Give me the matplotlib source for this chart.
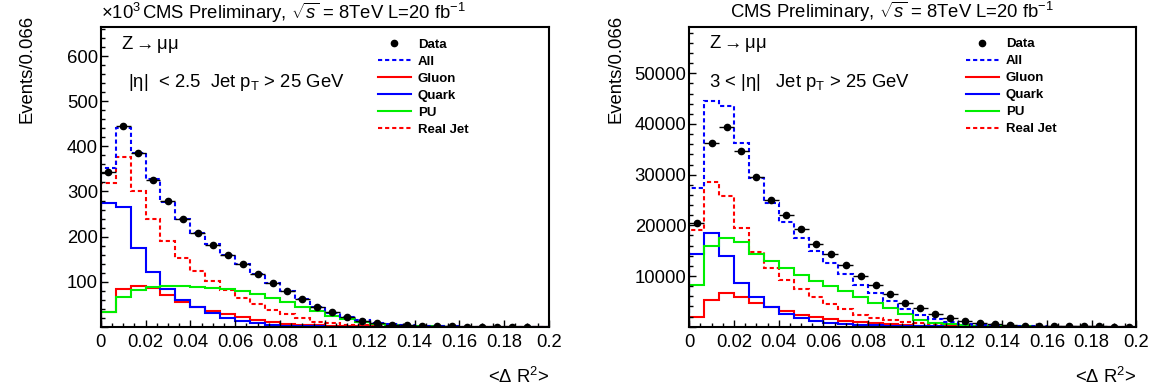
import matplotlib
matplotlib.use('Agg')
import matplotlib.pyplot as plt
import numpy as np
from matplotlib.lines import Line2D
from matplotlib.ticker import MultipleLocator, FuncFormatter

params = {
    'font.family': ['Liberation Sans', 'DejaVu Sans'],
    'font.size': 13.3,
    'mathtext.fontset': 'custom',
    'mathtext.rm': 'Liberation Sans',
    'mathtext.it': 'Liberation Sans:italic',
    'mathtext.bf': 'Liberation Sans:bold',
    'axes.linewidth': 1.5,
}
plt.rcParams.update(params)

# 30 bins of <dR^2> between 0 and 0.2
edges = np.linspace(0, 0.2, 31)

# left panel, |eta| < 2.5, in units of 10^3 events
data_l = [344, 445, 386, 326, 279, 239, 209, 182, 159, 138.5, 118, 98, 79.5, 62, 44.6,
          32, 21, 13.6, 7.7, 5, 3, 2, 1.2, 0.8, 0.5, 0.3, 0.2, 0.1, 0.1, 0]
all_l = [351, 440, 386, 327, 277, 239, 209, 183, 159, 138.5, 117, 96, 79.5, 61, 43,
         31, 22, 15, 9, 5.5, 3.2, 2, 1.2, 0.7, 0.4, 0.25, 0.15, 0.1, 0.05, 0.02]
gluon_l = [32, 83, 91, 85, 70, 56, 43, 35.8, 28.4, 21, 15, 10.6, 7, 4.7, 3.3,
           2, 1.3, 0.8, 0.5, 0.3, 0.2, 0.1, 0.05, 0.03, 0.02, 0.01, 0, 0, 0, 0]
quark_l = [273.6, 265, 175.5, 121, 83, 59.4, 43, 30, 20, 13.6, 7.7, 4.7, 2.5, 1.8, 1,
           0.6, 0.4, 0.25, 0.15, 0.1, 0.05, 0.03, 0.02, 0.01, 0, 0, 0, 0, 0, 0]
pu_l = [33, 65, 81.6, 89, 90.5, 90, 89, 87, 84.6, 79.5, 72.7, 64, 55, 44.6, 34,
        24.7, 16.6, 10, 6, 4, 2.5, 1.5, 0.9, 0.5, 0.3, 0.2, 0.1, 0.05, 0.03, 0.02]
realjet_l = [318, 376, 300, 239, 190, 152.5, 124.5, 102, 81.6, 64.6, 50.6, 37, 27.6, 18.8, 11,
             8, 5, 3, 2, 1.3, 0.8, 0.5, 0.3, 0.2, 0.1, 0.07, 0.05, 0.03, 0.02, 0.01]

# right panel, 3 < |eta|
data_r = [20400, 36200, 39500, 34700, 29500, 25000, 22000, 19300, 16400, 14300, 12200, 10100,
          8200, 6400, 4700, 3700, 2500, 1700, 1060, 660, 470, 340, 200, 130, 100, 70, 50, 40, 30, 20]
all_r = [27300, 44600, 43500, 36300, 29400, 24500, 20700, 17600, 15000, 12500, 10400, 8200,
         6600, 5100, 3500, 2300, 1450, 860, 530, 330, 200, 120, 80, 50, 30, 20, 15, 10, 5, 3]
gluon_r = [2000, 5300, 6600, 5800, 4700, 3800, 3100, 2400, 2000, 1500, 1100, 850,
           650, 450, 300, 200, 150, 100, 60, 40, 25, 15, 10, 5, 3, 2, 1, 0, 0, 0]
quark_r = [14300, 18500, 14000, 8700, 5800, 3900, 2600, 1800, 1200, 800, 600, 400,
           250, 150, 100, 60, 40, 25, 15, 10, 5, 3, 2, 1, 0, 0, 0, 0, 0, 0]
pu_r = [8200, 16000, 17600, 16800, 14300, 13000, 11600, 10200, 9000, 8000, 7000, 5900,
        4700, 3600, 2500, 1300, 800, 470, 300, 200, 100, 60, 40, 25, 15, 10, 5, 3, 2, 1]
realjet_r = [19100, 28500, 25800, 19500, 14800, 11500, 9200, 7400, 5900, 4400, 3400, 2400,
             1800, 1300, 1000, 700, 450, 300, 200, 120, 80, 50, 30, 20, 15, 10, 5, 3, 2, 1]

W, H = 1160., 391.
fig = plt.figure(figsize=[W / 100, H / 100], dpi=100)
axl = fig.add_axes([100.7 / W, (H - 326.8) / H, 448.3 / W, 299.5 / H])
axr = fig.add_axes([689.3 / W, (H - 326.7) / H, 447.0 / W, 300.0 / H])

dash = (0, (2.0, 1.4))
green = '#00ee00'
styles = [('realjet', 'red', dash), ('gluon', 'red', '-'), ('quark', 'blue', '-'),
          ('pu', green, '-'), ('all', 'blue', dash)]


def draw(ax, series, data, ymax, major, minor, cut):
    for name, col, ls in styles:
        ax.stairs(series[name], edges, color=col, linestyle=ls, lw=1.5)
    centers = 0.5 * (edges[1:] + edges[:-1])
    d = np.array(data, dtype=float)
    m = d > 0
    ax.errorbar(centers[m], d[m], xerr=0.5 * (edges[1] - edges[0]), fmt='o', color='black',
                ms=4.5, elinewidth=1.0, capsize=0, zorder=5)
    ax.set_xlim(0, 0.2)
    ax.set_ylim(0, ymax)
    ax.xaxis.set_major_locator(MultipleLocator(0.02))
    ax.xaxis.set_minor_locator(MultipleLocator(0.005))
    ax.yaxis.set_major_locator(MultipleLocator(major))
    ax.yaxis.set_minor_locator(MultipleLocator(minor))
    ax.xaxis.set_major_formatter(FuncFormatter(lambda v, p: '0' if abs(v) < 1e-9 else ('%g' % round(v, 3))))
    ax.yaxis.set_major_formatter(FuncFormatter(lambda v, p: '' if v < cut else '%d' % v))
    ax.tick_params(which='both', direction='in', top=False, right=False)
    ax.tick_params(which='major', length=5, width=1)
    ax.tick_params(which='minor', length=3, width=1)
    ax.tick_params(axis='y', pad=2)
    ax.tick_params(axis='x', pad=5)
    ax.text(1.0, -0.166, r'<$\Delta$ R$^{2}$>', transform=ax.transAxes, ha='right', va='center')
    ax.text(-0.165, 1.04, 'Events/0.066', transform=ax.transAxes, rotation=90, ha='center', va='top')
    ax.text(0.092, 1.048, r'CMS Preliminary, $\sqrt{s}$ = 8TeV L=20 fb$^{-1}$', transform=ax.transAxes,
            ha='left', va='center')
    ax.text(0.045, 0.943, r'Z$\rightarrow\mathrm{\mu\mu}$', transform=ax.transAxes, ha='left', va='center')

    handles = [Line2D([], [], color='black', marker='o', ms=4.5, ls='none'),
               Line2D([], [], color='blue', ls=dash, lw=1.5),
               Line2D([], [], color='red', lw=1.5),
               Line2D([], [], color='blue', lw=1.5),
               Line2D([], [], color=green, lw=1.5),
               Line2D([], [], color='red', ls=dash, lw=1.5)]
    labels = ['Data', 'All', 'Gluon', 'Quark', 'PU', 'Real Jet']
    ax.legend(handles, labels, loc='upper left', bbox_to_anchor=(0.618, 0.962), frameon=False,
              prop={'weight': 'bold', 'size': 9.5}, handlelength=2.5, handletextpad=0.55,
              labelspacing=0.36, borderpad=0, borderaxespad=0)


draw(axl, dict(all=all_l, gluon=gluon_l, quark=quark_l, pu=pu_l, realjet=realjet_l),
     data_l, 664, 100, 20, 50)
draw(axr, dict(all=all_r, gluon=gluon_r, quark=quark_r, pu=pu_r, realjet=realjet_r),
     data_r, 59200, 10000, 2000, 5000)

axl.text(0.0, 1.048, r'$\times$10$^{3}$', transform=axl.transAxes, ha='left', va='center')
axl.text(0.06, 0.815, '|\u03b7|  < 2.5  Jet p$_{\\mathrm{T}}$ > 25 GeV', transform=axl.transAxes,
         ha='left', va='center')
axr.text(0.045, 0.815, '3 < |\u03b7|   Jet p$_{\\mathrm{T}}$ > 25 GeV', transform=axr.transAxes,
         ha='left', va='center')

fig.savefig('out.png', dpi=100)
